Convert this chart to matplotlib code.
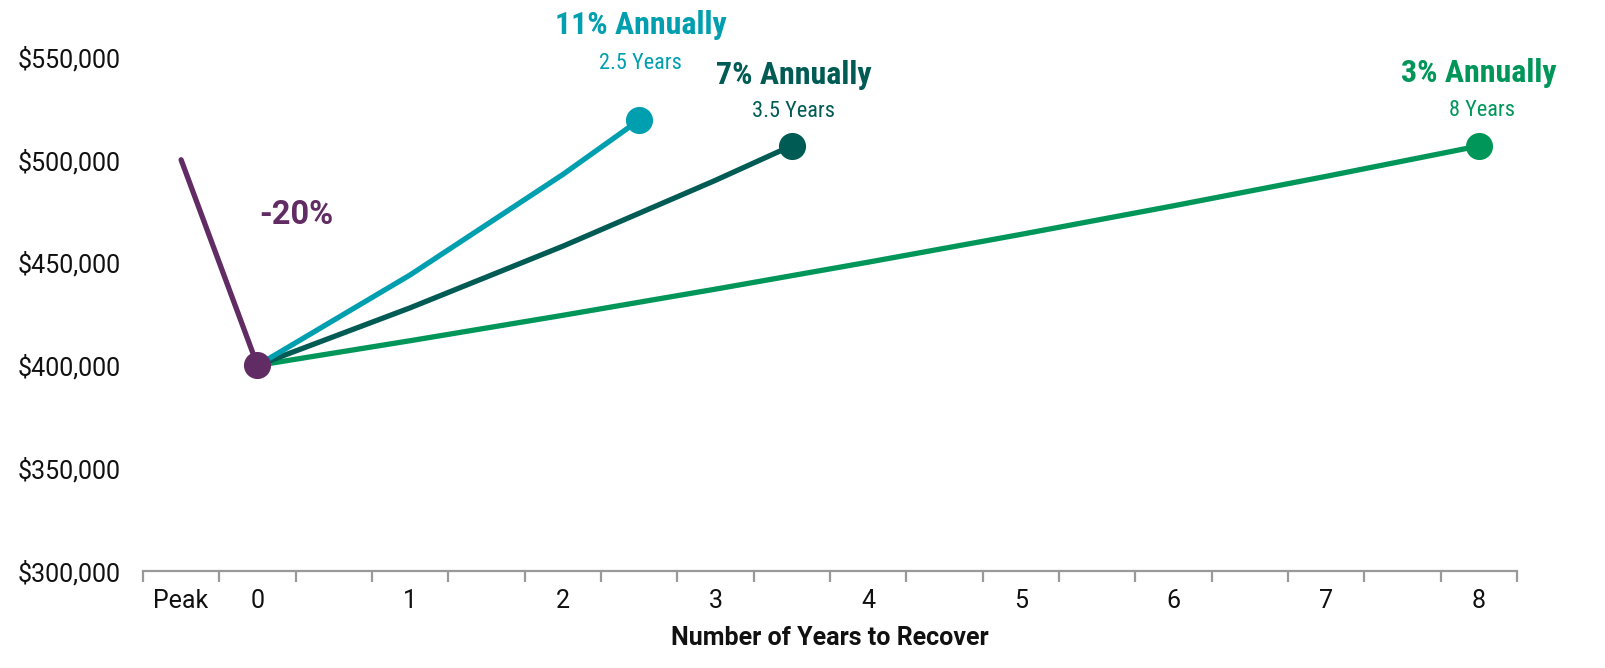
import matplotlib
matplotlib.use("Agg")
import matplotlib.pyplot as plt
from matplotlib import font_manager
from matplotlib.ticker import FuncFormatter, FixedLocator

# data
cat_pos = [-0.5, 0, 1, 2, 3, 4, 5, 6, 7, 8]
cat_labels = ["Peak", "0", "1", "2", "3", "4", "5", "6", "7", "8"]

drop_x = [-0.5, 0]
drop_y = [500000, 400000]

r11_x = [0, 1, 2, 2.5]
r11_y = [400000, 444000, 492840, 519300]

r7_x = [0, 1, 2, 3, 3.5]
r7_y = [400000, 428000, 457960, 490020, 506870]

r3_x = [0, 1, 2, 3, 4, 5, 6, 7, 8]
r3_y = [400000, 412000, 424360, 437090, 450200, 463710, 477620, 491950, 506710]

names = set(f.name for f in font_manager.fontManager.ttflist)

def pick(options):
    for o in options:
        if o in names:
            return o
    return "DejaVu Sans"

reg_font = pick(["Roboto", "Noto Sans", "Open Sans", "DejaVu Sans"])
cond_font = pick(["Roboto Condensed", "Liberation Sans Narrow", "Noto Sans", "Roboto"])

purple = "#612C63"
teal = "#009FAF"
dark = "#005B54"
green = "#00965A"

fig = plt.figure(figsize=(16.06, 6.68), dpi=100)
ax = fig.add_axes([0.089, 0.1452, 0.8556, 0.7695])

lw = 3.8
ax.plot(r3_x, r3_y, color=green, lw=lw, solid_capstyle="round", zorder=3)
ax.plot(r7_x, r7_y, color=dark, lw=lw, solid_capstyle="round", zorder=3)
ax.plot(r11_x, r11_y, color=teal, lw=lw, solid_capstyle="round", zorder=3)
ax.plot(drop_x, drop_y, color=purple, lw=lw, solid_capstyle="round", zorder=4)

ms = 18.5
ax.plot(r3_x[-1], r3_y[-1], "o", color=green, ms=ms, zorder=5)
ax.plot(r7_x[-1], r7_y[-1], "o", color=dark, ms=ms, zorder=5)
ax.plot(r11_x[-1], r11_y[-1], "o", color=teal, ms=ms, zorder=5)
ax.plot(drop_x[-1], drop_y[-1], "o", color=purple, ms=ms, zorder=6)

ax.set_xlim(-0.75, 8.25)
ax.set_ylim(300000, 550000)

ax.set_yticks([300000, 350000, 400000, 450000, 500000, 550000])
ax.yaxis.set_major_formatter(FuncFormatter(lambda v, p: "${:,.0f}".format(v)))
ax.tick_params(axis="y", length=0, pad=16, labelsize=18, labelcolor="#111111")

ax.set_xticks(cat_pos)
ax.set_xticklabels(cat_labels)
ax.tick_params(axis="x", which="major", length=0, pad=13, labelsize=18, labelcolor="#111111")
ax.xaxis.set_minor_locator(FixedLocator([-0.75 + 0.5 * i for i in range(19)]))
ax.tick_params(axis="x", which="minor", length=8, width=1.6, color="#999999", direction="out")

for lab in ax.get_xticklabels() + ax.get_yticklabels():
    lab.set_fontfamily(reg_font)

for s in ["top", "right", "left"]:
    ax.spines[s].set_visible(False)
ax.spines["bottom"].set_color("#999999")
ax.spines["bottom"].set_linewidth(1.6)

ax.set_xlabel("Number of Years to Recover", fontsize=18, fontweight="bold",
              fontfamily=reg_font, color="#111111", labelpad=9)

# annotations
ax.text(2.51, 565600, "11% Annually", color=teal, fontsize=23, fontweight="bold",
        fontfamily=cond_font, ha="center", va="center", clip_on=False)
ax.text(2.51, 546600, "2.5 Years", color=teal, fontsize=16,
        fontfamily=cond_font, ha="center", va="center", clip_on=False)
ax.text(3.51, 541300, "7% Annually", color=dark, fontsize=23, fontweight="bold",
        fontfamily=cond_font, ha="center", va="center", clip_on=False)
ax.text(3.51, 523700, "3.5 Years", color=dark, fontsize=16,
        fontfamily=cond_font, ha="center", va="center", clip_on=False)
ax.text(8.0, 542200, "3% Annually", color=green, fontsize=23, fontweight="bold",
        fontfamily=cond_font, ha="center", va="center", clip_on=False)
ax.text(8.02, 524200, "8 Years", color=green, fontsize=16,
        fontfamily=cond_font, ha="center", va="center", clip_on=False)
ax.text(0.256, 473200, "-20%", color=purple, fontsize=23.5, fontweight="bold",
        fontfamily=reg_font, ha="center", va="center", clip_on=False)

fig.savefig("out.png", dpi=100)
